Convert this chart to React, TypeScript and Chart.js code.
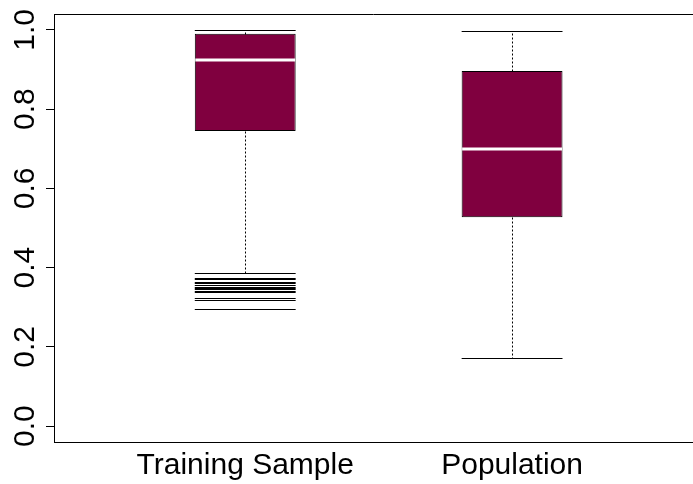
import React, { useEffect, useRef } from "react";
import { Chart, registerables } from "chart.js";

Chart.register(...registerables);

const categories = ["Training Sample", "Population"];
const lowerWhisker = [0.387, 0.173];
const q1 = [0.745, 0.527];
const median = [0.924, 0.699];
const q3 = [0.99, 0.896];
const upperWhisker = [1.0, 0.998];
const outliers: number[][] = [
  [0.375, 0.371, 0.364, 0.361, 0.356, 0.352, 0.348, 0.346, 0.341, 0.338, 0.323, 0.318, 0.295],
  [],
];
const yTicks = [0, 0.2, 0.4, 0.6, 0.8, 1.0];

const FONT = "'Liberation Sans', Arial, sans-serif";

const boxExtras = {
  id: "boxExtras",
  afterDatasetsDraw(chart: any) {
    const { ctx, chartArea } = chart;
    const y = chart.scales.y;
    const meta = chart.getDatasetMeta(0);
    ctx.save();
    meta.data.forEach((bar: any, i: number) => {
      const { x, width } = bar.getProps(["x", "width"], true);
      const l = x - width / 2;
      const r = x + width / 2;
      const px = (v: number) => Math.round(y.getPixelForValue(v)) + 0.5;
      const cx = Math.round(x) + 0.5;
      ctx.strokeStyle = "#000";
      ctx.lineWidth = 1;
      ctx.setLineDash([2, 2]);
      ctx.beginPath();
      ctx.moveTo(cx, px(q3[i]));
      ctx.lineTo(cx, px(upperWhisker[i]));
      ctx.moveTo(cx, px(q1[i]));
      ctx.lineTo(cx, px(lowerWhisker[i]));
      ctx.stroke();
      ctx.setLineDash([]);
      ctx.beginPath();
      ctx.moveTo(l, px(upperWhisker[i]));
      ctx.lineTo(r, px(upperWhisker[i]));
      ctx.moveTo(l, px(lowerWhisker[i]));
      ctx.lineTo(r, px(lowerWhisker[i]));
      ctx.stroke();
      ctx.beginPath();
      outliers[i].forEach((v) => {
        ctx.moveTo(l, px(v));
        ctx.lineTo(r, px(v));
      });
      ctx.stroke();
      ctx.strokeStyle = "#ffffff";
      ctx.lineWidth = 3;
      ctx.beginPath();
      const my = Math.round(y.getPixelForValue(median[i]));
      ctx.moveTo(l + 0.5, my);
      ctx.lineTo(r - 0.5, my);
      ctx.stroke();
    });
    ctx.strokeStyle = "#000";
    ctx.lineWidth = 1;
    ctx.beginPath();
    const t = Math.round(chartArea.top) + 0.5;
    ctx.moveTo(chartArea.left, t);
    ctx.lineTo(chartArea.right, t);
    ctx.stroke();
    ctx.restore();
  },
};

export default function App() {
  const ref = useRef<HTMLCanvasElement>(null);
  useEffect(() => {
    if (!ref.current) return;
    const chart = new Chart(ref.current, {
      type: "bar",
      data: {
        datasets: [
          {
            data: categories.map((_, i) => ({ x: i + 1, y: [q1[i], q3[i]] })) as any,
            backgroundColor: "#80003F",
            borderColor: "#000",
            borderWidth: 1,
            borderSkipped: false,
            barPercentage: 0.378,
            categoryPercentage: 1,
          },
        ],
      },
      options: {
        animation: false,
        responsive: false,
        layout: { padding: { top: 14, left: 0, right: 0, bottom: 0 } },
        plugins: { legend: { display: false }, tooltip: { enabled: false } },
        scales: {
          x: {
            type: "linear",
            offset: false,
            min: 0.2834,
            max: 2.678,
            grid: { display: false, drawTicks: false },
            border: { display: true, color: "#000", width: 1 },
            afterBuildTicks: (scale: any) => {
              scale.ticks = categories.map((_, i) => ({ value: i + 1 }));
            },
            afterFit: (scale: any) => {
              scale.height = 42;
              scale.paddingLeft = 0;
              scale.paddingRight = 0;
              scale.paddingTop = 0;
              scale.paddingBottom = 0;
            },
            ticks: {
              autoSkip: false,
              maxRotation: 0,
              minRotation: 0,
              padding: 6,
              color: "#000",
              font: { family: FONT, size: 30 },
              callback: (v: any) => categories[Math.round(Number(v)) - 1] ?? "",
            },
          },
          y: {
            type: "linear",
            min: -0.04,
            max: 1.04,
            grid: { display: true, drawOnChartArea: false, drawTicks: true, tickLength: 8, color: "#000" },
            border: { display: true, color: "#000", width: 1 },
            afterBuildTicks: (scale: any) => {
              scale.ticks = yTicks.map((v) => ({ value: v }));
            },
            afterFit: (scale: any) => {
              scale.width = 54;
              scale.paddingLeft = 0;
              scale.paddingRight = 0;
              scale.paddingTop = 0;
              scale.paddingBottom = 0;
            },
            ticks: {
              minRotation: 90,
              maxRotation: 90,
              crossAlign: "center",
              padding: -1,
              color: "#000",
              font: { family: FONT, size: 30 },
              callback: (v: any) => Number(v).toFixed(1),
            },
          },
        },
      },
      plugins: [boxExtras],
    });
    return () => chart.destroy();
  }, []);
  return (
    <div style={{ position: "absolute", left: 0, top: 0, width: 693, height: 484, background: "#fff" }}>
      <canvas ref={ref} width={693} height={484} style={{ display: "block" }} />
    </div>
  );
}
